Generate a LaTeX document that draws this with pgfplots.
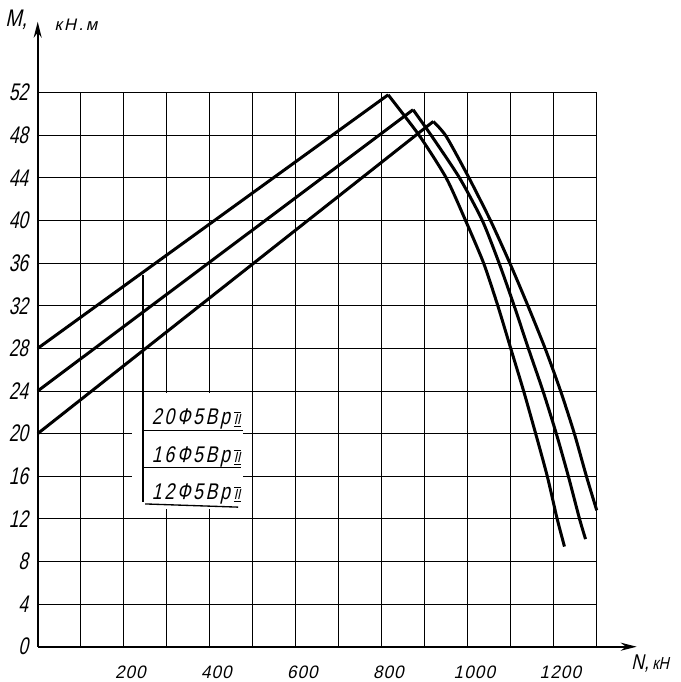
\documentclass[border=0pt]{standalone}
\usepackage{fontspec}
\usepackage{pgfplots}
\pgfplotsset{compat=1.18}
\usetikzlibrary{arrows.meta}
\setmainfont{Liberation Sans}
\newfontfamily\hand{Liberation Sans}[FakeSlant=0.22, FakeStretch=0.82]
\newfontfamily\handn{Liberation Sans}[FakeSlant=0.22, FakeStretch=0.72]
\newfontfamily\handx{Liberation Sans}[FakeSlant=0.22, FakeStretch=0.95, LetterSpace=6]
\newfontfamily\handls{Liberation Sans}[FakeSlant=0.22, FakeStretch=0.78, LetterSpace=12]
\newfontfamily\handw{Liberation Sans}[FakeSlant=0.22, LetterSpace=14]

\pgfplotstableread{
N M
0 28
815 51.8
}\riseA
\pgfplotstableread{
N M
815 51.8
887 48
950 44
995 40
1037 36
1070 32
1100 28
1130 24
1158 20
1185 16
1208 12
1225 9.4
}\fallA
\pgfplotstableread{
N M
0 24
873 50.4
}\riseB
\pgfplotstableread{
N M
873 50.4
915 48
981 44
1034 40
1073 36
1108 32
1141 28
1175 24
1206 20
1234 16
1260 12
1274 10.1
}\fallB
\pgfplotstableread{
N M
0 20
920 49.3
}\riseC
\pgfplotstableread{
N M
920 49.3
950 47.9
1003 44
1053 40
1098 36
1140 32
1180 28
1216 24
1248 20
1276 16
1300 12.8
}\fallC

\begin{document}
\begin{tikzpicture}
\begin{axis}[
  scale only axis, width=419.25pt, height=415.5pt,
  xmin=0, xmax=1300, ymin=0, ymax=52,
  xtick={0,100,...,1300},
  xticklabels={,,200,,400,,600,,800,,1000,,1200,},
  ytick={0,4,...,52},
  yticklabels={0,4,8,12,16,20,24,28,32,36,40,44,48,52},
  grid=major,
  major grid style={black, line width=0.7pt},
  axis line style={draw=none},
  major tick length=0pt,
  tick style={draw=none},
  xticklabel style={font=\handx\fontsize{13.5}{13.5}\selectfont, anchor=north, inner sep=0pt, yshift=-14.5pt, xshift=5pt},
  yticklabel style={font=\handn\fontsize{18}{18}\selectfont, anchor=east, inner sep=0pt, xshift=-7pt},
  clip=false,
  /pgf/number format/assume math mode=true,
]
\coordinate (bl) at (axis cs:-87.67,-3.313);
\coordinate (tr) at (axis cs:1496,60.70);
% legend box
\fill[white] (axis cs:220,12.95) rectangle (axis cs:478,23.8);
\addplot[black, line width=1pt, forget plot] coordinates {(245,34.9) (245,13.6)};
\addplot[black, line width=1pt, forget plot] coordinates {(245,20.3) (478,20.3)};
\addplot[black, line width=1pt, forget plot] coordinates {(245,16.85) (473,16.85)};
\addplot[black, line width=1pt, forget plot] coordinates {(250,13.4) (466,13.1)};
\node[anchor=base west, inner sep=0pt] at (axis cs:265,20.85) {\handls\fontsize{17}{17}\selectfont 20Ф5Вр\,$\overline{\underline{\mbox{\hand\fontsize{11}{11}\selectfont II}}}$};
\node[anchor=base west, inner sep=0pt] at (axis cs:265,17.3) {\handls\fontsize{17}{17}\selectfont 16Ф5Вр\,$\overline{\underline{\mbox{\hand\fontsize{11}{11}\selectfont II}}}$};
\node[anchor=base west, inner sep=0pt] at (axis cs:265,13.8) {\handls\fontsize{17}{17}\selectfont 12Ф5Вр\,$\overline{\underline{\mbox{\hand\fontsize{11}{11}\selectfont II}}}$};
% curves
\addplot[black, line width=2.25pt, line join=round] table[x=N, y=M] {\riseA};
\addplot[black, line width=2.25pt, line join=round, smooth, tension=0.4] table[x=N, y=M] {\fallA};
\addplot[black, line width=2.25pt, line join=round] table[x=N, y=M] {\riseB};
\addplot[black, line width=2.25pt, line join=round, smooth, tension=0.4] table[x=N, y=M] {\fallB};
\addplot[black, line width=2.25pt, line join=round] table[x=N, y=M] {\riseC};
\addplot[black, line width=2.25pt, line join=round, smooth, tension=0.4] table[x=N, y=M] {\fallC};
% axes arrows
\draw[line width=1.5pt, -{Stealth[length=12pt, width=6pt]}] (axis cs:0,0) -- (axis cs:0,58.66);
\draw[line width=1.5pt, -{Stealth[length=12pt, width=6pt]}] (axis cs:0,0) -- (axis cs:1393,0);
% axis labels
\node[inner sep=0pt] at (axis cs:-50,58.8) {\hand\fontsize{18}{18}\selectfont M,};
\node[inner sep=0pt] at (axis cs:89,58.4) {\handw\fontsize{12.5}{12.5}\selectfont кН.\,м};
\node[inner sep=0pt, anchor=west] at (axis cs:1380,-1.6) {\hand\fontsize{16}{16}\selectfont N,\,\fontsize{13}{13}\selectfont кН};
\end{axis}
\pgfresetboundingbox
\useasboundingbox (bl) rectangle (tr);
\end{tikzpicture}
\end{document}
